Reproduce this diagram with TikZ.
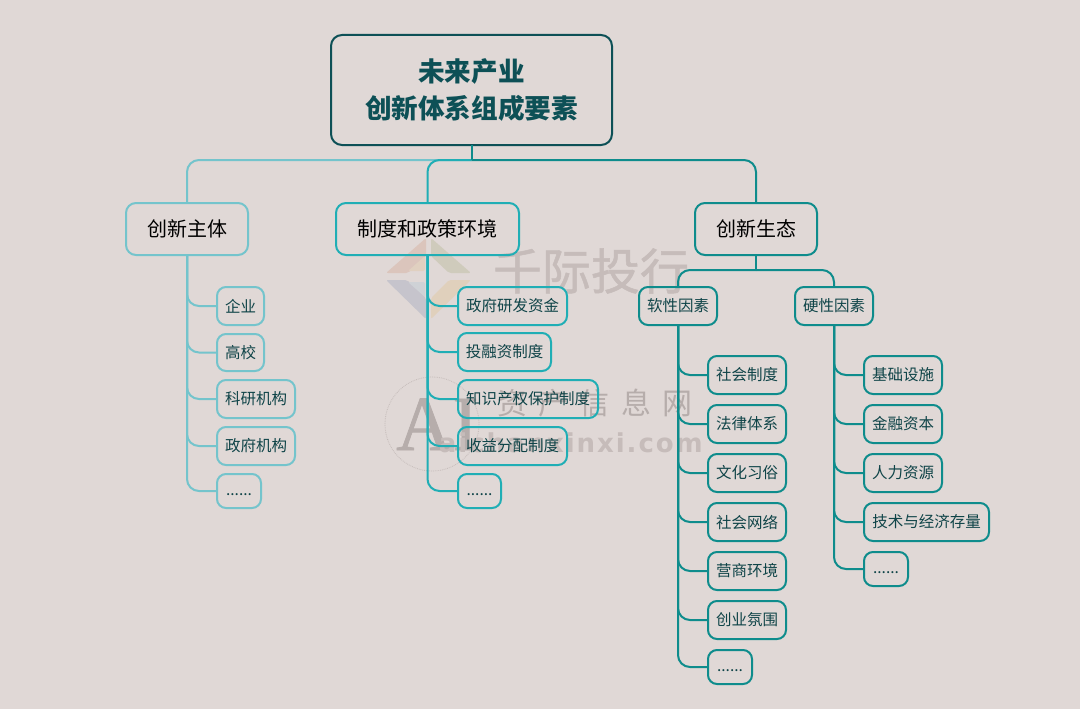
\documentclass[tikz,border=0pt]{standalone}
\usepackage{fontspec}
\setmainfont{Noto Sans CJK SC}
\newfontfamily\wmsans[LetterSpace=7.5]{DejaVu Sans}
\newfontfamily\wmserif[FakeBold=1]{Liberation Serif}
\newfontfamily\wmcjk[FakeBold=1]{Noto Sans CJK SC}
\definecolor{bgc}{HTML}{E0D8D6}
\definecolor{lightc}{HTML}{74C4CC}
\definecolor{midc}{HTML}{20AEB5}
\definecolor{darkc}{HTML}{0E8C8C}
\definecolor{rootc}{HTML}{0D5056}
\definecolor{leaftext}{HTML}{0F4448}
\definecolor{wmc}{HTML}{C6BCBA}
\definecolor{wmupl}{HTML}{DBC5BC}
\definecolor{wmupr}{HTML}{CFCBBC}
\definecolor{wmlol}{HTML}{C6C4CC}
\definecolor{wmlor}{HTML}{E0D0BC}
\definecolor{wmupin}{HTML}{E0D0C0}
\definecolor{wmloin}{HTML}{CFD2D6}
\tikzset{
  x=1pt,y=-1pt,
  base/.style={draw,line width=2pt,rounded corners=9pt,inner sep=0pt,outer sep=0pt,align=center,anchor=north west},
  rootbox/.style={base,rounded corners=11pt,draw=rootc,text=rootc,font=\fontsize{26.6}{37}\selectfont\bfseries},
  midbox/.style={base,rounded corners=10pt,text=black,font=\fontsize{20}{24}\selectfont},
  leafbox/.style={base,text=leaftext,font=\fontsize{15.5}{18}\selectfont},
  link/.style={line width=2pt,rounded corners=12pt},
  wmtext/.style={text=wmc,inner sep=0pt},
}
\newcommand{\boxat}[7]{% name, style, colour, x1, y1, x2, y2 -- text follows
  \node[#2,draw=#3,minimum width=#6-#4 pt,minimum height=#7-#5 pt] (#1) at (#4,#5)}
\newcommand{\dotsrow}{\raisebox{-4.5pt}[0pt][0pt]{......}}
\begin{document}
\begin{tikzpicture}
\useasboundingbox[fill=bgc] (0,0) rectangle (1080,709);

% watermark, under everything
\begin{scope}[rounded corners=2pt]
  \fill[fill=wmupl] (426,238) -- (386,273) -- (408,273) -- (426,256) -- cycle;
  \fill[fill=wmupr] (431,238) -- (471,273) -- (449,273) -- (431,256) -- cycle;
  \fill[fill=wmlol] (386,280) -- (426,319) -- (426,298) -- (407,280) -- cycle;
  \fill[fill=wmlor] (471,280) -- (431,319) -- (431,298) -- (449,280) -- cycle;
  \fill[fill=wmupin] (408,271) -- (425,256) -- (425,271) -- cycle;
  \fill[fill=wmloin] (408,282) -- (425,282) -- (425,297) -- cycle;
\end{scope}
\node[wmtext,font=\wmcjk\fontsize{49}{49}\selectfont,anchor=center] (wm1) at (591,271) {千际投行};
\node[wmtext,text=wmc!92!black,font=\wmserif\fontsize{78}{78}\selectfont,anchor=base west] (wm2) at (396,450) {AI};
\node[wmtext,text=wmc!92!black,font=\fontsize{30}{30}\selectfont,anchor=center] (wm3) at (595,403) {资\hspace{11.5pt}产\hspace{11.5pt}信\hspace{11.5pt}息\hspace{11.5pt}网};
\node[wmtext,font=\wmsans\bfseries\fontsize{26}{26}\selectfont,anchor=base east] (wm4) at (703,452) {aichanxinxi.com};
\draw[wmc,densely dotted,line width=.8pt] (432,424) circle (47);

% boxes
\boxat{root}{rootbox}{rootc}{331}{35}{612}{145} {未来产业\\创新体系组成要素};
\boxat{a}{midbox}{lightc}{126}{203}{248}{255} {创新主体};
\boxat{b}{midbox}{midc}{336}{203}{519}{255} {制度和政策环境};
\boxat{c}{midbox}{darkc}{695}{203}{817}{255} {创新生态};

\boxat{a1}{leafbox}{lightc}{217}{287}{264}{325} {企业};
\boxat{a2}{leafbox}{lightc}{217}{334}{264}{371} {高校};
\boxat{a3}{leafbox}{lightc}{217}{380}{295}{418} {科研机构};
\boxat{a4}{leafbox}{lightc}{217}{427}{295}{465} {政府机构};
\boxat{a5}{leafbox}{lightc}{217}{474}{261}{508} {\dotsrow};

\boxat{b1}{leafbox}{midc}{458}{287}{567}{325} {政府研发资金};
\boxat{b2}{leafbox}{midc}{458}{333}{551}{371} {投融资制度};
\boxat{b3}{leafbox}{midc}{458}{380}{598}{418} {知识产权保护制度};
\boxat{b4}{leafbox}{midc}{458}{427}{567}{465} {收益分配制度};
\boxat{b5}{leafbox}{midc}{458}{474}{501}{508} {\dotsrow};

\boxat{s}{leafbox}{darkc}{639}{287}{717}{325} {软性因素};
\boxat{h}{leafbox}{darkc}{795}{287}{873}{325} {硬性因素};

\boxat{s1}{leafbox}{darkc}{708}{356}{786}{394} {社会制度};
\boxat{s2}{leafbox}{darkc}{708}{405}{786}{443} {法律体系};
\boxat{s3}{leafbox}{darkc}{708}{454}{786}{492} {文化习俗};
\boxat{s4}{leafbox}{darkc}{708}{503}{786}{541} {社会网络};
\boxat{s5}{leafbox}{darkc}{708}{552}{786}{590} {营商环境};
\boxat{s6}{leafbox}{darkc}{708}{601}{786}{639} {创业氛围};
\boxat{s7}{leafbox}{darkc}{708}{650}{752}{684} {\dotsrow};

\boxat{h1}{leafbox}{darkc}{864}{356}{942}{394} {基础设施};
\boxat{h2}{leafbox}{darkc}{864}{405}{942}{443} {金融资本};
\boxat{h3}{leafbox}{darkc}{864}{454}{942}{492} {人力资源};
\boxat{h4}{leafbox}{darkc}{864}{503}{989}{541} {技术与经济存量};
\boxat{h5}{leafbox}{darkc}{864}{552}{908}{586} {\dotsrow};

\coordinate (stem) at (root.south |- 0,160);
\coordinate (softbus) at (c.south |- 0,270);

% connectors
\draw[link,lightc] (stem) -| (a.north);
\draw[link,midc] (stem) -| (b.north);
\draw[link,darkc] (stem) -| (c.north);
\draw[line width=2pt,darkc] (root.south) -- (stem);
\foreach \n in {a1,a2,a3,a4,a5} \draw[link,lightc] (a.south) |- (\n.west);
\foreach \n in {b1,b2,b3,b4,b5} \draw[link,midc] (b.south) |- (\n.west);
\foreach \n in {s1,s2,s3,s4,s5,s6,s7} \draw[link,darkc] (s.south) |- (\n.west);
\foreach \n in {h1,h2,h3,h4,h5} \draw[link,darkc] (h.south) |- (\n.west);
\draw[line width=2pt,darkc] (c.south) -- (softbus);
\draw[link,darkc] (softbus) -| (s.north);
\draw[link,darkc] (softbus) -| (h.north);
\end{tikzpicture}
\end{document}
